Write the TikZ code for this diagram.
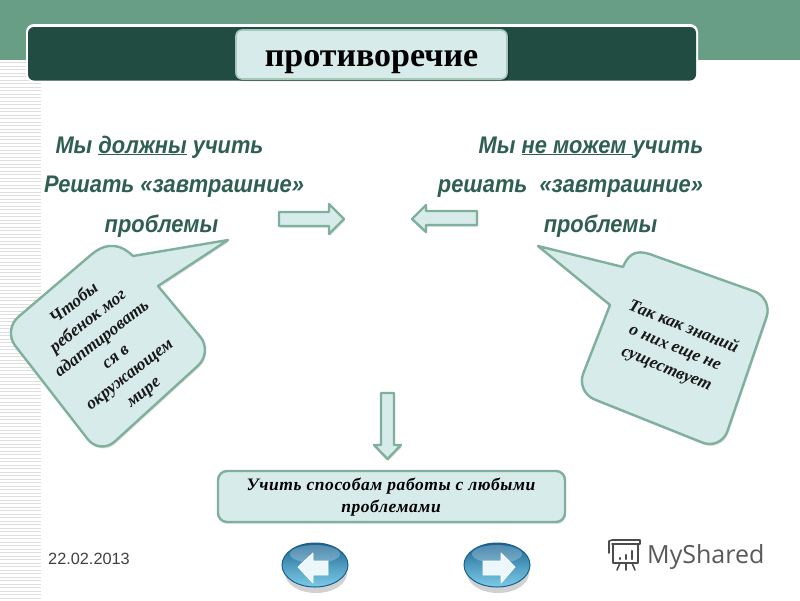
\documentclass[tikz,border=0pt]{standalone}
\usepackage{fontspec}
\setmainfont{Liberation Serif}
\newfontfamily\arialf[FakeStretch=0.91]{Liberation Sans}
\newfontfamily\datef{Liberation Sans}
\newfontfamily\logof{Open Sans}
\newfontfamily\spacedf[LetterSpace=3.3]{Liberation Serif}
\usetikzlibrary{shadows}
\definecolor{bandgreen}{HTML}{689E86}
\definecolor{bardark}{HTML}{214C41}
\definecolor{panel}{HTML}{D7EBEA}
\definecolor{edgegreen}{HTML}{7FB09B}
\definecolor{textgreen}{HTML}{2F5F4F}
\definecolor{btndark}{HTML}{17608F}
\definecolor{btnlight}{HTML}{7CCBE6}
\tikzset{
  softshadow/.style={drop shadow={opacity=.22,shadow xshift=1pt,shadow yshift=-2pt}},
  shapeblock/.style={fill=panel,draw=edgegreen,line width=2.4pt,line join=round,softshadow},
  mainline/.style={font=\arialf\bfseries\itshape\fontsize{24}{24}\selectfont,text=textgreen,inner sep=0pt,anchor=base},
  calloutText/.style={font=\bfseries\itshape\fontsize{17.5}{22.5}\selectfont,align=center,inner sep=0pt,text=black!90},
  btnarrow/.style={fill=white!85!btnlight,draw=white,line width=.8pt,line join=round},
  logoline/.style={draw=black!70,line width=1.6pt,line cap=round,line join=round}
}
\begin{document}
\begin{tikzpicture}[x=1pt,y=-1pt]
\useasboundingbox (0,0) rectangle (800,600);
\fill[white] (0,0) rectangle (800,600);
% background
\fill[bandgreen] (0,0) rectangle (800,60);
\foreach \yy in {62,65.5,...,600} {\fill[black!13] (0,\yy) rectangle (41,\yy+1.4);}
% title bar
\fill[white,rounded corners=8] (26,24) rectangle (698,82);
\fill[bardark,rounded corners=6] (28,27) rectangle (696,80.5);
\fill[black,opacity=.25,rounded corners=6] (236,32) rectangle (509,81);
\fill[panel,draw=edgegreen!70!white,line width=1.6pt,rounded corners=6] (236,30) rectangle (507,79);
\node[inner sep=0pt,anchor=base,font=\bfseries\fontsize{34}{34}\selectfont] (title) at (371.5,66) {противоречие};
% left column
\node[mainline] (la) at (159.5,153) {Мы \underline{должны} учить};
\node[mainline] (lb) at (174,192) {Решать «завтрашние»};
\node[mainline] (lc) at (161.5,232) {проблемы};
% right column
\node[mainline] (ra) at (591,153) {Мы \underline{не можем\ }учить};
\node[mainline] (rb) at (570.5,192) {решать\ \ «завтрашние»};
\node[mainline] (rc) at (600.5,232) {проблемы};
% block arrows
\path[shapeblock] (279,212) -- (329,212) -- (329,204) -- (344,219) -- (329,234) -- (329,226) -- (279,226) -- cycle;
\path[shapeblock] (477,211) -- (426,211) -- (426,205) -- (412,219) -- (426,232) -- (426,225) -- (477,225) -- cycle;
\path[shapeblock] (381,393) -- (394,393) -- (394,445) -- (401,445) -- (387.5,459) -- (374,445) -- (381,445) -- cycle;
% left callout
\path[shapeblock] (92,254) .. controls (108,241) and (122,245) .. (133,256) -- (228,240) -- (158,286) [rounded corners=20] -- (213,352) -- (100,455) -- (3,330) [sharp corners] -- (92,254) -- cycle;
\node[calloutText,rotate=38] (lt) at (109,348) {Чтобы\\ребенок мог\\адаптировать\\ся в\\окружающем\\мире};
% right callout
\path[shapeblock] (655,256) [rounded corners=20] -- (773,298) -- (721,450) -- (576,392) [sharp corners] -- (610,305) -- (538,246) -- (623,267) .. controls (630,250) and (640,250) .. (655,256) -- cycle;
\node[calloutText,rotate=-22] (rt) at (675,348) {Так как знаний\\о них еще не\\существует};
% bottom box
\path[shapeblock,rounded corners=9] (218,471) rectangle (565,522);
\node[font=\spacedf\bfseries\itshape\fontsize{17.5}{22}\selectfont,align=center,inner sep=0pt] (bt) at (391,497.5) {Учить способам работы с любыми\\проблемами};
% nav buttons
\foreach \cx in {315,497} {
  \fill[black,opacity=.18] (\cx+1,573) ellipse [x radius=31,y radius=20];
  \shade[top color=btndark,bottom color=btnlight,middle color=btndark!45!btnlight,draw=btndark,line width=1pt] (\cx,565) ellipse [x radius=33,y radius=22];
  \fill[white,opacity=.25] (\cx,554) ellipse [x radius=25,y radius=9];
}
\path[btnarrow] (298,567) -- (313,553) -- (313,561) -- (328,561) -- (328,575) -- (313,575) -- (313,583) -- cycle;
\path[btnarrow] (515,567) -- (501,553) -- (501,561) -- (483,561) -- (483,575) -- (501,575) -- (501,583) -- cycle;
% date
\node[font=\datef\fontsize{16.3}{16}\selectfont,text=black!75,inner sep=0pt,anchor=base west] (dt) at (48,564) {22.02.2013};
% logo
\draw[logoline] (612,540) -- (640,540) -- (640,544) -- (612,544) (612,540) -- (609,541) -- (609,553) (613,544) -- (613,563) -- (638,563) -- (638,544);
\draw[logoline] (620,563) -- (617,570) (626,563) -- (626,570) (632,563) -- (635,570);
\draw[logoline,line width=2.2pt] (620,559) -- (620,558) (626,559) -- (626,555) (632,559) -- (632,551);
\node[font=\logof\fontsize{25}{25}\selectfont,text=black!65,inner sep=0pt,anchor=base west] (logo) at (647,563) {MyShared};
\end{tikzpicture}
\end{document}
